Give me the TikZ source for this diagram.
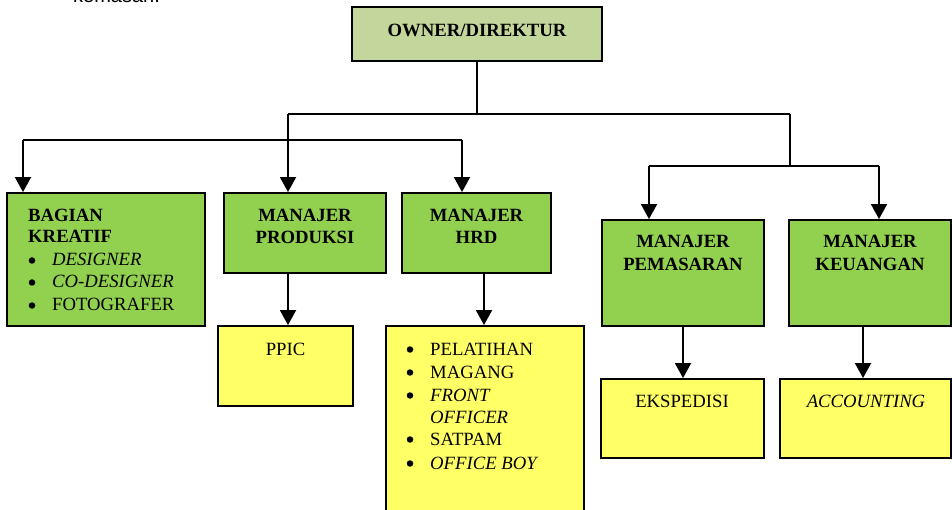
\documentclass[tikz,border=0pt]{standalone}
\usepackage{fontspec}
\setmainfont{Liberation Serif}
\newfontfamily\sansf{Liberation Sans}
\usetikzlibrary{arrows.meta}
\definecolor{ownerc}{HTML}{C3D69B}
\definecolor{greenc}{HTML}{92D050}
\definecolor{yellowc}{HTML}{FFFF66}
\begin{document}
\begin{tikzpicture}[x=1pt,y=-1pt,
  box/.style={draw=black,line width=1.9pt,rectangle,inner sep=0pt},
  gbox/.style={box,fill=greenc},
  ybox/.style={box,fill=yellowc},
  txt/.style={inner sep=0pt,font=\fontsize{18.7}{21.7}\selectfont},
  btxt/.style={txt,font=\fontsize{18.7}{21.7}\selectfont\bfseries},
  itxt/.style={txt,font=\fontsize{18.7}{21.7}\selectfont\itshape},
  bul/.style={circle,fill=black,inner sep=0pt,minimum size=6.5pt},
  conn/.style={line width=1.9pt},
  arr/.style={line width=1.9pt,-{Triangle[length=15pt,width=16pt]}}
]
\useasboundingbox (0,0) rectangle (952,510);
\begin{scope}
\clip (0,0) rectangle (952,510);
\node[inner sep=0pt,anchor=base west,font=\sansf\fontsize{20}{24}\selectfont] (kem) at (73,3) {kemasan.};

% boxes
\node[box,fill=ownerc,minimum width=250pt,minimum height=54pt] (owner) at (477,34) {};
\node[gbox,minimum width=198pt,minimum height=133pt] (kreatif) at (106,259.5) {};
\node[gbox,minimum width=162pt,minimum height=80pt] (prod) at (305,233) {};
\node[gbox,minimum width=149pt,minimum height=80pt] (hrd) at (476.5,233) {};
\node[gbox,minimum width=162pt,minimum height=106pt] (pem) at (683,273) {};
\node[gbox,minimum width=162pt,minimum height=106pt] (keu) at (870,273) {};
\node[ybox,minimum width=135pt,minimum height=80pt] (ppic) at (285.5,366) {};
\node[ybox,minimum width=198pt,minimum height=200pt] (hrdl) at (485,426) {};
\node[ybox,minimum width=163pt,minimum height=79pt] (eksp) at (682.5,418.5) {};
\node[ybox,minimum width=171pt,minimum height=79pt] (acc) at (865.5,418.5) {};

% texts
\node[btxt,anchor=base] (towner) at (477,37) {OWNER/DIREKTUR};

\node[btxt,anchor=base west] (tk1) at (28,222) {BAGIAN};
\node[btxt,anchor=base west] (tk2) at (28,243) {KREATIF};
\node[bul] (bk1) at (32,260.5) {};
\node[itxt,anchor=base west] (tk3) at (52,266) {DESIGNER};
\node[bul] (bk2) at (32,282.5) {};
\node[itxt,anchor=base west] (tk4) at (52,288) {CO-DESIGNER};
\node[bul] (bk3) at (32,305.5) {};
\node[txt,anchor=base west] (tk5) at (52,311) {FOTOGRAFER};

\node[btxt,anchor=base] (tp1) at (305,222) {MANAJER};
\node[btxt,anchor=base] (tp2) at (305,244) {PRODUKSI};
\node[btxt,anchor=base] (th1) at (476.5,222) {MANAJER};
\node[btxt,anchor=base] (th2) at (476.5,244) {HRD};
\node[btxt,anchor=base] (tm1) at (683,248) {MANAJER};
\node[btxt,anchor=base] (tm2) at (683,271) {PEMASARAN};
\node[btxt,anchor=base] (tu1) at (870,248) {MANAJER};
\node[btxt,anchor=base] (tu2) at (870,271) {KEUANGAN};

\node[txt,anchor=base] (tppic) at (285.5,355) {PPIC};
\node[txt,anchor=base] (teksp) at (682,407) {EKSPEDISI};
\node[itxt,anchor=base] (tacc) at (866,407) {ACCOUNTING};

\node[bul] (bh1) at (410,349.5) {};
\node[txt,anchor=base west] (th3) at (430,355) {PELATIHAN};
\node[bul] (bh2) at (410,372.5) {};
\node[txt,anchor=base west] (th4) at (430,378) {MAGANG};
\node[bul] (bh3) at (410,395.5) {};
\node[itxt,anchor=base west] (th5) at (430,401) {FRONT};
\node[itxt,anchor=base west] (th6) at (430,423) {OFFICER};
\node[bul] (bh4) at (410,439.5) {};
\node[txt,anchor=base west] (th7) at (430,445) {SATPAM};
\node[bul] (bh5) at (410,463.5) {};
\node[itxt,anchor=base west] (th8) at (430,469) {OFFICE BOY};

% connectors
\coordinate (hA) at (288,114);
\coordinate (hB) at (790,114);
\coordinate (hC) at (23,140);
\coordinate (hD) at (462,140);
\coordinate (hE) at (649,166);
\coordinate (hF) at (879,166);
\coordinate (hG) at (484,273);
\coordinate (hH) at (863,326);

\draw[conn] (owner.south) -- (owner.south |- hA);
\draw[conn] (hA) -- (hB);
\draw[arr] (hA) -- (hA |- prod.north);
\draw[conn] (hC) -- (hD);
\draw[arr] (hC) -- (hC |- kreatif.north);
\draw[arr] (hD) -- (hD |- hrd.north);
\draw[conn] (hB) -- (hB |- hE);
\draw[conn] (hE) -- (hF);
\draw[arr] (hE) -- (hE |- pem.north);
\draw[arr] (hF) -- (hF |- keu.north);

\draw[arr] (prod.south -| hA) -- (hA |- ppic.north);
\draw[arr] (hG) -- (hG |- hrdl.north);
\draw[arr] (pem.south) -- (pem.south |- eksp.north);
\draw[arr] (hH) -- (hH |- acc.north);
\end{scope}
\end{tikzpicture}
\end{document}
